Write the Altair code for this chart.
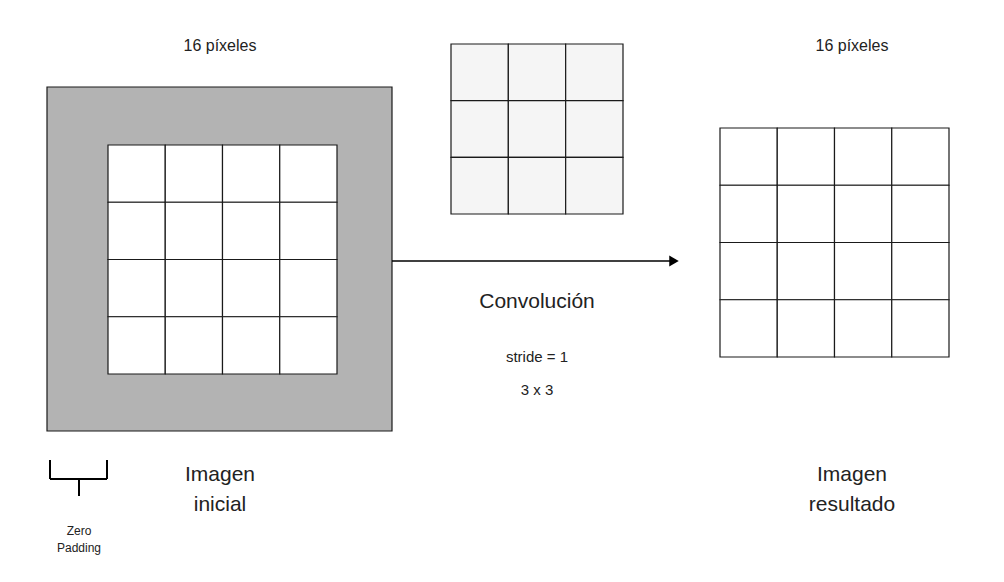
import altair as alt
import pandas as pd

# Diagram geometry (pixel-like coordinates)
pad_box = [47, 87, 392, 431]          # zero padding square
input_grid = [108, 145, 337, 374]     # 4x4 input
kernel_grid = [451, 44, 623, 214]     # 3x3 kernel
output_grid = [720, 128, 949, 357]    # 4x4 output
grid_n = [4, 3, 4]

texts = [
    ("16 píxeles", 220, 46, 16),
    ("16 píxeles", 852, 46, 16),
    ("Convolución", 537, 302, 21),
    ("stride = 1", 537, 357, 15),
    ("3 x 3", 537, 390, 15),
    ("Imagen", 220, 475, 21),
    ("inicial", 220, 505, 21),
    ("Imagen", 852, 475, 21),
    ("resultado", 852, 505, 21),
    ("Zero", 79, 531, 12),
    ("Padding", 79, 548, 12),
]

def cells(box, n, fill):
    x0, y0, x1, y1 = box
    w = (x1 - x0) / n; h = (y1 - y0) / n
    out = []
    for i in range(n):
        for j in range(n):
            out.append(dict(x=x0 + i*w, x2=x0 + (i+1)*w, y=y0 + j*h, y2=y0 + (j+1)*h, fill=fill))
    return out

rects = [dict(x=pad_box[0], x2=pad_box[2], y=pad_box[1], y2=pad_box[3], fill="#b3b3b3")]
rects += cells(input_grid, grid_n[0], "#ffffff")
rects += cells(kernel_grid, grid_n[1], "#f5f5f5")
rects += cells(output_grid, grid_n[2], "#ffffff")
rdf = pd.DataFrame(rects)

lines = pd.DataFrame([
    dict(x=392, x2=672, y=261, y2=261, w=1.3),
    dict(x=50, x2=50, y=460, y2=479, w=2),
    dict(x=107, x2=107, y=460, y2=479, w=2),
    dict(x=50, x2=107, y=479, y2=479, w=2),
    dict(x=79, x2=79, y=479, y2=496, w=2),
])
arrow = pd.DataFrame([dict(x=674, y=261)])
tdf = pd.DataFrame(texts, columns=["t", "x", "y", "s"])

X = alt.Scale(domain=[8, 996], nice=False, zero=False)
Y = alt.Scale(domain=[8, 574], reverse=True, nice=False, zero=False)
noax = None

r = alt.Chart(rdf).mark_rect(stroke="#1a1a1a", strokeWidth=1.2).encode(
    x=alt.X("x:Q", scale=X, axis=noax), x2="x2", y=alt.Y("y:Q", scale=Y, axis=noax), y2="y2",
    fill=alt.Fill("fill:N", scale=None))
l = alt.Chart(lines).mark_rule(color="#000").encode(
    x=alt.X("x:Q", scale=X, axis=noax), x2="x2", y=alt.Y("y:Q", scale=Y, axis=noax), y2="y2",
    strokeWidth=alt.StrokeWidth("w:Q", scale=None))
a = alt.Chart(arrow).mark_point(shape="triangle-right", filled=True, color="#000", size=120, opacity=1).encode(
    x=alt.X("x:Q", scale=X, axis=noax), y=alt.Y("y:Q", scale=Y, axis=noax))
t = alt.Chart(tdf).mark_text(font="Liberation Sans", color="#222", baseline="middle").encode(
    x=alt.X("x:Q", scale=X, axis=noax), y=alt.Y("y:Q", scale=Y, axis=noax), text="t:N",
    size=alt.Size("s:Q", scale=None))

chart = alt.layer(r, l, a, t).properties(
    width=988, height=566, padding=0,
    autosize=alt.AutoSizeParams(type="fit", contains="padding"),
    background="white").configure_view(stroke=None)
chart.save("out.html", embed_options={"renderer": "svg", "actions": False})
